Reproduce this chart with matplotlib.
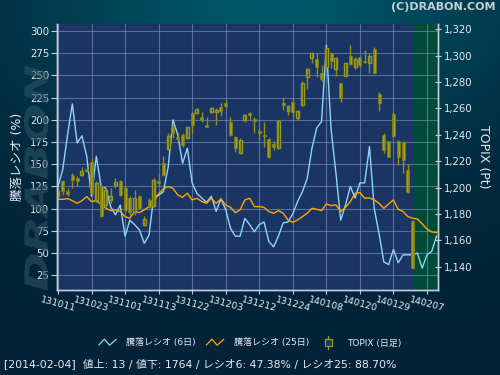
import numpy as np
import matplotlib
matplotlib.use('Agg')
import matplotlib.pyplot as plt
from matplotlib.lines import Line2D
from matplotlib.patches import Rectangle, PathPatch
from matplotlib.legend_handler import HandlerBase
from matplotlib.textpath import TextPath
from matplotlib.font_manager import FontProperties
from matplotlib.transforms import Affine2D, IdentityTransform

FONTS = ['DejaVu Sans', 'Noto Sans CJK JP']
plt.rcParams['font.family'] = FONTS

# x軸ラベル (7営業日ごと)
tick_labels = ['131011', '131023', '131101', '131113', '131122', '131203',
               '131212', '131224', '140108', '140120', '140129', '140207']

# 騰落レシオ (6日)
ratio6 = [125, 144, 183, 218, 174, 182, 159, 114, 159, 125, 123, 102, 93, 104, 69, 87,
          82, 76, 61, 70, 114, 115, 119, 147, 200, 183, 151, 168, 129, 117, 112, 107,
          114, 97, 111, 99, 78, 69, 69, 89, 82, 74, 82, 85, 63, 57, 69, 84,
          85, 94, 108, 119, 134, 168, 191, 198, 284, 189, 140, 87, 104, 125, 112, 129,
          129, 170, 100, 72, 40, 37, 54, 39, 48, 48, 48, 50, 33, 48, 52, 69]

# 騰落レシオ (25日)
ratio25 = [110.5, 110.5, 111.3, 109, 106, 109, 113.5, 108, 109, 105, 100.4, 97.8, 98.5, 96.7,
           91, 89.2, 96.7, 95.5, 98.5, 102.3, 108, 116.5, 122.5, 124.8, 122.9, 115.4, 112.8,
           117.3, 109.8, 111.7, 108, 106, 111.7, 106, 111, 104.2, 101.5, 95.5, 98.5, 109.8,
           111.7, 102.3, 102.3, 101.5, 96.7, 94.8, 97.8, 94.8, 87.3, 84.6, 87.3, 91, 94.8,
           100.4, 99.3, 97.8, 105.3, 103.4, 104.2, 96.7, 101.5, 108, 117.3, 118.1, 111.7,
           112, 109.8, 106, 100.4, 105.3, 109.8, 99.3, 96.7, 91, 89.2, 88.4, 82.8, 77.1, 73.8, 73]

# TOPIX 日足
topix_open = [1193.2, 1204.6, 1197.0, 1209.6, 1207.1, 1209.6, 1213.9, 1219.0, 1190.7, 1200.8,
              1186.9, 1190.2, 1202.1, 1204.6, 1199.5, 1192.0, 1181.1, 1193.2, 1171.8, 1190.7,
              1186.2, 1205.1, 1218.5, 1229.1, 1246.7, 1238.2, 1239.9, 1237.4, 1256.3, 1256.3,
              1253.3, 1247.5, 1257.6, 1257.1, 1260.9, 1263.9, 1249.5, 1238.2, 1226.0, 1251.3,
              1256.3, 1251.8, 1243.0, 1239.9, 1236.6, 1232.9, 1229.8, 1263.9, 1258.4, 1264.7,
              1253.0, 1262.7, 1284.1, 1298.5, 1297.3, 1286.6, 1291.7, 1301.8, 1289.7, 1279.1,
              1284.9, 1299.8, 1291.7, 1298.8, 1296.2, 1294.2, 1304.8, 1271.0, 1239.9, 1234.9,
              1255.6, 1235.4, 1234.4, 1213.4, 1174.3]
topix_high = [1199.5, 1205.9, 1199.5, 1210.9, 1208.4, 1215.9, 1215.9, 1222.3, 1204.6, 1202.1,
              1199.5, 1199.5, 1207.1, 1205.9, 1200.8, 1193.2, 1198.3, 1194.0, 1178.1, 1192.0,
              1207.1, 1210.4, 1224.1, 1241.7, 1248.8, 1241.2, 1241.2, 1246.7, 1257.6, 1260.1,
              1256.9, 1253.3, 1261.4, 1260.1, 1264.4, 1266.5, 1253.8, 1239.2, 1237.4, 1255.8,
              1257.6, 1253.8, 1245.0, 1250.0, 1237.4, 1234.9, 1251.3, 1268.5, 1262.7, 1267.7,
              1258.9, 1280.8, 1290.4, 1303.1, 1301.8, 1293.0, 1306.3, 1302.5, 1298.8, 1279.6,
              1294.7, 1308.1, 1299.3, 1299.3, 1304.3, 1302.3, 1306.3, 1272.8, 1241.2, 1235.2,
              1256.9, 1236.2, 1234.9, 1218.0, 1175.5]
topix_low = [1192.0, 1194.5, 1193.7, 1199.5, 1200.8, 1208.4, 1211.4, 1194.5, 1189.4, 1177.5,
             1185.6, 1188.2, 1199.5, 1193.2, 1180.6, 1179.3, 1179.3, 1183.6, 1170.5, 1184.4,
             1185.6, 1202.1, 1208.4, 1228.1, 1237.4, 1234.9, 1230.6, 1236.6, 1241.7, 1255.6,
             1250.0, 1245.7, 1256.3, 1247.5, 1254.3, 1260.9, 1238.7, 1227.3, 1225.5, 1250.0,
             1251.3, 1241.7, 1236.6, 1231.1, 1222.3, 1228.1, 1229.3, 1258.9, 1255.1, 1253.8,
             1251.3, 1261.9, 1274.8, 1294.2, 1284.1, 1281.1, 1290.4, 1290.4, 1284.6, 1265.2,
             1283.6, 1293.0, 1289.7, 1291.7, 1294.2, 1286.6, 1286.5, 1258.4, 1226.5, 1223.0,
             1238.2, 1217.2, 1210.9, 1195.7, 1138.5]
topix_close = [1197.0, 1197.0, 1195.2, 1205.9, 1205.1, 1212.2, 1212.9, 1195.7, 1203.3, 1178.1,
               1198.3, 1193.2, 1204.1, 1194.0, 1182.6, 1181.1, 1192.0, 1184.4, 1176.1, 1185.6,
               1205.9, 1203.3, 1209.6, 1238.7, 1241.2, 1236.6, 1232.4, 1246.2, 1247.5, 1259.4,
               1251.3, 1246.2, 1260.6, 1258.9, 1258.4, 1261.9, 1239.9, 1229.8, 1235.7, 1255.1,
               1255.1, 1250.3, 1241.2, 1238.7, 1223.0, 1231.1, 1250.5, 1262.7, 1261.9, 1256.9,
               1258.1, 1279.6, 1289.7, 1301.8, 1291.7, 1282.3, 1305.6, 1296.0, 1298.0, 1267.7,
               1294.2, 1293.7, 1297.3, 1293.0, 1295.0, 1299.8, 1287.1, 1264.4, 1228.6, 1223.5,
               1239.2, 1223.5, 1220.5, 1196.3, 1138.9]

status = '[2014-02-04]  値上: 13 / 値下: 1764 / レシオ6: 47.38% / レシオ25: 88.70%'

plot_bg = '#1a3564'
text_col = '#e6eaf0'
spine_col = '#c4ccdc'

fig = plt.figure(figsize=(5, 3.75), dpi=100)

# 背景グラデーション
bg = fig.add_axes([0, 0, 1, 1], zorder=-10)
gx, gy = np.meshgrid(np.linspace(0, 1, 200), np.linspace(0, 1, 150))
w = np.exp(-(((gx - 0.55) / 0.5) ** 2 + (gy / 0.4) ** 2))
dark = np.array([0.01, 0.14, 0.22])
teal = np.array([0.0, 0.34, 0.41])
img = dark[None, None, :] * (1 - w[..., None]) + teal[None, None, :] * w[..., None]
bg.imshow(img, extent=[0, 1, 0, 1], aspect='auto', origin='upper')
bg.set_axis_off()

# ウォーターマーク
tp = TextPath((0, 0), 'DRABON', size=1,
              prop=FontProperties(family='DejaVu Sans', weight='bold', style='italic'))
ext = tp.get_extents()
tr = (Affine2D().translate(-(ext.x0 + ext.width / 2), -(ext.y0 + ext.height / 2))
      .scale(225 / ext.width, 24 / ext.height).rotate_deg(90).translate(36, 197))
fig.add_artist(PathPatch(tp, transform=tr + IdentityTransform(), facecolor='#2c5263',
                         edgecolor='none', alpha=0.6))

ax = fig.add_axes([0.114, 0.2267, 0.762, 0.7093])
ax.set_facecolor(plot_bg)
ax2 = ax.twinx()

n = len(ratio6)
ax.axvspan(len(topix_open) - 1, n + 5, color='#004a3a', lw=0, zorder=0)
ax.plot(np.arange(len(ratio6)), ratio6, color='#8fd6f2', lw=1.0, zorder=3)
ax.plot(np.arange(len(ratio25)), ratio25, color='#ffa500', lw=1.0, zorder=3)

ax.set_xlim(-0.2, 79.3)
ax.set_ylim(8.4, 307.9)
ax.set_yticks(np.arange(25, 301, 25))
ax.set_xticks(np.arange(len(tick_labels)) * 7)
ax.set_xticklabels(tick_labels, rotation=-15, ha='center')
ax.grid(True, color='#8e9cc0', lw=0.8, alpha=0.55)
ax.set_axisbelow(True)

# ローソク足
o = np.array(topix_open)
h = np.array(topix_high)
l = np.array(topix_low)
c = np.array(topix_close)
xs = np.arange(len(o))
up = c >= o
bottom = np.minimum(o, c)
height = np.maximum(np.abs(c - o), 0.6)
ax2.vlines(xs, l, h, color='#8f8f18', lw=1.0)
ax2.bar(xs[~up], height[~up], bottom=bottom[~up], width=0.62, color='#a9a91c',
        edgecolor='#7a7a12', lw=0.6)
ax2.bar(xs[up], height[up], bottom=bottom[up], width=0.62, facecolor=plot_bg,
        edgecolor='#9a9a20', lw=1.0)
ax2.set_ylim(1122.3, 1324)
ax2.set_yticks(np.arange(1140, 1321, 20))
ax2.yaxis.set_major_formatter(matplotlib.ticker.StrMethodFormatter('{x:,.0f}'))

for a in (ax, ax2):
    for s in a.spines.values():
        s.set_color(spine_col)
        s.set_linewidth(1.0)
    a.spines['top'].set_visible(False)
ax.tick_params(axis='y', colors=spine_col, labelcolor=text_col, labelsize=7.3,
               length=4, pad=1.5)
ax.tick_params(axis='x', colors=spine_col, labelcolor=text_col, labelsize=6.8,
               length=3, pad=1)
ax2.tick_params(axis='y', colors=spine_col, labelcolor=text_col, labelsize=7.3,
                length=5, direction='inout', pad=2)

ax.set_ylabel('騰落レシオ (%)', color=text_col, fontsize=9, labelpad=4)
ax2.set_ylabel('TOPIX (Pt)', color=text_col, fontsize=9, rotation=-90, labelpad=12)

fig.text(0.992, 1 - 7 / 375, '(C)DRABON.COM', ha='right', va='center',
         fontsize=8, fontweight='bold', color='#c6ced6')


# 凡例
class Zigzag(HandlerBase):
    def create_artists(self, legend, orig, xd, yd, wd, ht, fs, trans):
        px = np.array([0.0, 0.32, 0.62, 1.0]) * wd - xd
        py = np.array([0.1, 1.0, 0.05, 0.95]) * ht - yd
        return [Line2D(px, py, color=orig.get_color(), lw=0.9, transform=trans)]


class Candle(HandlerBase):
    def create_artists(self, legend, orig, xd, yd, wd, ht, fs, trans):
        cx = wd / 2 - xd
        wick = Line2D([cx, cx], [-0.5 * ht - yd, 1.5 * ht - yd], color='#9a9a20',
                      lw=0.9, transform=trans)
        body = Rectangle((cx - 2.5, -0.05 * ht - yd), 5, 1.1 * ht, facecolor=plot_bg,
                         edgecolor='#9a9a20', lw=0.9, transform=trans)
        return [wick, body]


handles = [Line2D([], [], color='#8fd6f2'), Line2D([], [], color='#ffa500'),
           Rectangle((0, 0), 1, 1)]
fig.legend(handles, ['騰落レシオ (6日)', '騰落レシオ (25日)', 'TOPIX (日足)'],
           handler_map={Line2D: Zigzag(), Rectangle: Candle()},
           loc='center', bbox_to_anchor=(0.5, 1 - 343 / 375), ncol=3, frameon=False,
           fontsize=6.5, labelcolor=text_col, handlelength=1.9, handletextpad=1.1,
           columnspacing=1.2)

fig.text(0.008, 1 - 364 / 375, status, ha='left', va='center', fontsize=7.8,
         color=text_col)

fig.savefig('out.png', dpi=100)
